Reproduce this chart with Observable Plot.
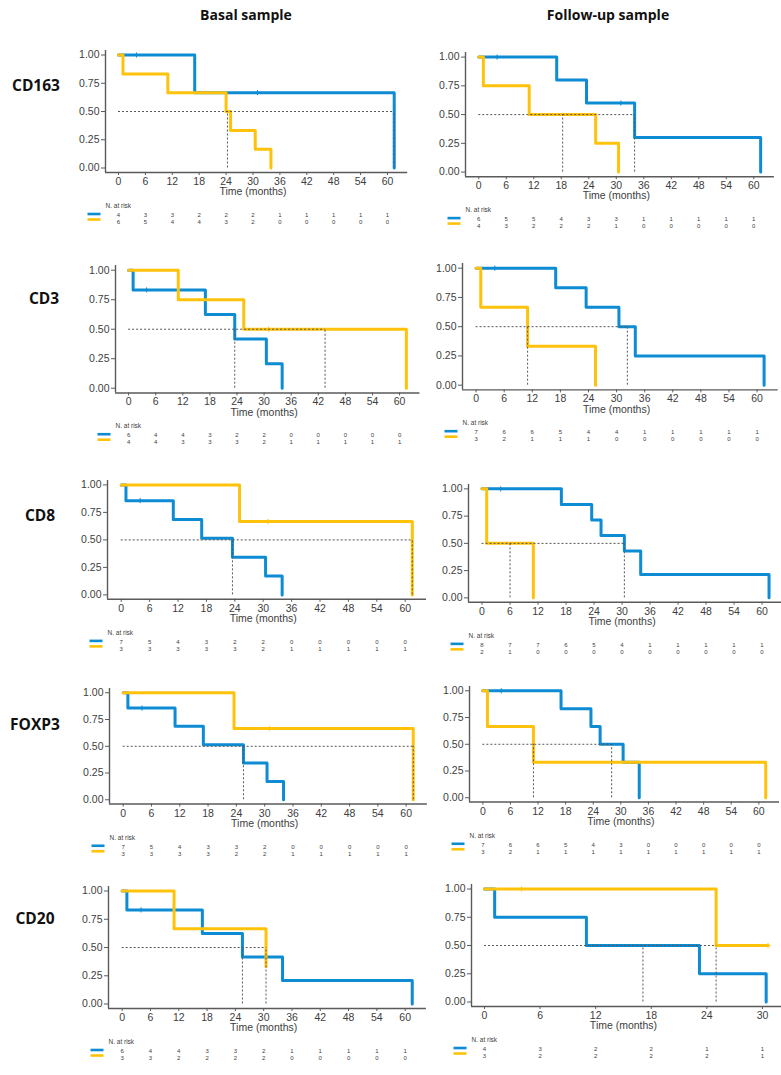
<!DOCTYPE html>
<html><head><meta charset="utf-8">
<script src="https://cdn.jsdelivr.net/npm/d3@7"></script>
<script src="https://cdn.jsdelivr.net/npm/@observablehq/plot@0.6"></script>
<style>
body{margin:0;background:#fff;}
#fig{position:relative;width:781px;height:1075px;overflow:hidden;background:#fff;}
.lbl{position:absolute;font-family:"Open Sans",sans-serif;font-weight:700;color:#111;transform:translate(-50%,-50%);white-space:nowrap;line-height:1;}
.panel{position:absolute;}
.panel svg{max-width:none !important;}
</style></head><body><div id="fig"></div><script>
// ---------- text ----------
const columnTitles = ["Basal sample", "Follow-up sample"];
const markers = ["CD163", "CD3", "CD8", "FOXP3", "CD20"];
const xAxisTitle = "Time (months)";
const riskTitle = "N. at risk";
const riskTimes60 = [0, 6, 12, 18, 24, 30, 36, 42, 48, 54, 60];
const riskTimes30 = [0, 6, 12, 18, 24, 30];
const yTicks = [0, 0.25, 0.5, 0.75, 1];

// ---------- CD163 basal ----------
const cd163BasalBlue = [[0,1],[17,0.667],[61.5,0]];
const cd163BasalYellow = [[0,1],[1,0.833],[11,0.667],[24,0.5],[25,0.333],[30.5,0.167],[34,0]];
const cd163BasalCensorBlue = [[4,1],[31,0.667]];
const cd163BasalCensorYellow = [];
const cd163BasalMedians = [24.3, 61.5];
const cd163BasalRiskBlue = [4,3,3,2,2,2,1,1,1,1,1];
const cd163BasalRiskYellow = [6,5,4,4,3,2,0,0,0,0,0];
// ---------- CD163 follow-up ----------
const cd163FollowBlue = [[0,1],[17,0.8],[23.5,0.6],[34,0.3],[61.5,0]];
const cd163FollowYellow = [[0,1],[1,0.75],[11,0.5],[25.5,0.25],[30.5,0]];
const cd163FollowCensorBlue = [[4,1],[31,0.6]];
const cd163FollowCensorYellow = [];
const cd163FollowMedians = [18.3, 34];
const cd163FollowRiskBlue = [6,5,5,4,3,3,1,1,1,1,1];
const cd163FollowRiskYellow = [4,3,2,2,2,1,0,0,0,0,0];
// ---------- CD3 basal ----------
const cd3BasalBlue = [[0,1],[1,0.833],[17,0.625],[23.5,0.417],[30.5,0.208],[34,0]];
const cd3BasalYellow = [[0,1],[11,0.75],[25.5,0.5],[61.5,0]];
const cd3BasalCensorBlue = [[4,0.833]];
const cd3BasalCensorYellow = [[31,0.5]];
const cd3BasalMedians = [23.5, 43.5];
const cd3BasalRiskBlue = [6,4,4,3,2,2,0,0,0,0,0];
const cd3BasalRiskYellow = [4,4,3,3,3,2,1,1,1,1,1];
// ---------- CD3 follow-up ----------
const cd3FollowBlue = [[0,1],[17,0.833],[23.5,0.667],[30.5,0.5],[34,0.25],[61.5,0]];
const cd3FollowYellow = [[0,1],[1,0.667],[11,0.333],[25.5,0]];
const cd3FollowCensorBlue = [[4,1]];
const cd3FollowCensorYellow = [];
const cd3FollowMedians = [11, 32.3];
const cd3FollowRiskBlue = [7,6,6,5,4,4,1,1,1,1,1];
const cd3FollowRiskYellow = [3,2,1,1,1,0,0,0,0,0,0];
// ---------- CD8 basal ----------
const cd8BasalBlue = [[0,1],[1,0.857],[11,0.686],[17,0.514],[23.5,0.343],[30.5,0.171],[34,0]];
const cd8BasalYellow = [[0,1],[25,0.667],[61.5,0]];
const cd8BasalCensorBlue = [[4,0.857]];
const cd8BasalCensorYellow = [[31,0.667]];
const cd8BasalMedians = [23.5, 61.5];
const cd8BasalRiskBlue = [7,5,4,3,2,2,0,0,0,0,0];
const cd8BasalRiskYellow = [3,3,3,3,3,2,1,1,1,1,1];
// ---------- CD8 follow-up ----------
const cd8FollowBlue = [[0,1],[17,0.857],[23.5,0.714],[25.5,0.571],[30.5,0.429],[34,0.214],[61.5,0]];
const cd8FollowYellow = [[0,1],[1,0.5],[11,0]];
const cd8FollowCensorBlue = [[4,1]];
const cd8FollowCensorYellow = [];
const cd8FollowMedians = [6, 30.5];
const cd8FollowRiskBlue = [8,7,7,6,5,4,1,1,1,1,1];
const cd8FollowRiskYellow = [2,1,0,0,0,0,0,0,0,0,0];
// ---------- FOXP3 basal ----------
const foxp3BasalBlue = [[0,1],[1,0.857],[11,0.686],[17,0.514],[25.5,0.343],[30.5,0.171],[34,0]];
const foxp3BasalYellow = [[0,1],[23.5,0.667],[61.5,0]];
const foxp3BasalCensorBlue = [[4,0.857]];
const foxp3BasalCensorYellow = [[31,0.667]];
const foxp3BasalMedians = [25.5, 61.5];
const foxp3BasalRiskBlue = [7,5,4,3,3,2,0,0,0,0,0];
const foxp3BasalRiskYellow = [3,3,3,3,2,2,1,1,1,1,1];
// ---------- FOXP3 follow-up ----------
const foxp3FollowBlue = [[0,1],[17,0.833],[23.5,0.667],[25.5,0.5],[30.5,0.333],[34,0]];
const foxp3FollowYellow = [[0,1],[1,0.667],[11,0.333],[61.5,0]];
const foxp3FollowCensorBlue = [[4,1]];
const foxp3FollowCensorYellow = [];
const foxp3FollowMedians = [11, 28];
const foxp3FollowRiskBlue = [7,6,6,5,4,3,0,0,0,0,0];
const foxp3FollowRiskYellow = [3,2,1,1,1,1,1,1,1,1,1];
// ---------- CD20 basal ----------
const cd20BasalBlue = [[0,1],[1,0.833],[17,0.625],[25.5,0.417],[34,0.208],[61.5,0]];
const cd20BasalYellow = [[0,1],[11,0.667],[30.5,0.333]];
const cd20BasalCensorBlue = [[4,0.833]];
const cd20BasalCensorYellow = [];
const cd20BasalMedians = [25.5, 30.5];
const cd20BasalRiskBlue = [6,4,4,3,3,2,1,1,1,1,1];
const cd20BasalRiskYellow = [3,3,2,2,2,2,0,0,0,0,0];
// ---------- CD20 follow-up ----------
const cd20FollowBlue = [[0,1],[1.1,0.75],[11,0.5],[23.2,0.25],[30.4,0]];
const cd20FollowYellow = [[0,1],[25,0.5],[30.6,0.5]];
const cd20FollowCensorBlue = [];
const cd20FollowCensorYellow = [[4,1],[30.6,0.5]];
const cd20FollowMedians = [17.1, 25];
const cd20FollowRiskBlue = [4,3,2,2,1,1];
const cd20FollowRiskYellow = [3,2,2,2,2,1];

// ---------- assemble panels (reading order) ----------
const panels = [
  {blue:cd163BasalBlue, yellow:cd163BasalYellow, cb:cd163BasalCensorBlue, cy:cd163BasalCensorYellow, med:cd163BasalMedians, rb:cd163BasalRiskBlue, ry:cd163BasalRiskYellow, times:riskTimes60},
  {blue:cd163FollowBlue, yellow:cd163FollowYellow, cb:cd163FollowCensorBlue, cy:cd163FollowCensorYellow, med:cd163FollowMedians, rb:cd163FollowRiskBlue, ry:cd163FollowRiskYellow, times:riskTimes60},
  {blue:cd3BasalBlue, yellow:cd3BasalYellow, cb:cd3BasalCensorBlue, cy:cd3BasalCensorYellow, med:cd3BasalMedians, rb:cd3BasalRiskBlue, ry:cd3BasalRiskYellow, times:riskTimes60},
  {blue:cd3FollowBlue, yellow:cd3FollowYellow, cb:cd3FollowCensorBlue, cy:cd3FollowCensorYellow, med:cd3FollowMedians, rb:cd3FollowRiskBlue, ry:cd3FollowRiskYellow, times:riskTimes60},
  {blue:cd8BasalBlue, yellow:cd8BasalYellow, cb:cd8BasalCensorBlue, cy:cd8BasalCensorYellow, med:cd8BasalMedians, rb:cd8BasalRiskBlue, ry:cd8BasalRiskYellow, times:riskTimes60},
  {blue:cd8FollowBlue, yellow:cd8FollowYellow, cb:cd8FollowCensorBlue, cy:cd8FollowCensorYellow, med:cd8FollowMedians, rb:cd8FollowRiskBlue, ry:cd8FollowRiskYellow, times:riskTimes60},
  {blue:foxp3BasalBlue, yellow:foxp3BasalYellow, cb:foxp3BasalCensorBlue, cy:foxp3BasalCensorYellow, med:foxp3BasalMedians, rb:foxp3BasalRiskBlue, ry:foxp3BasalRiskYellow, times:riskTimes60},
  {blue:foxp3FollowBlue, yellow:foxp3FollowYellow, cb:foxp3FollowCensorBlue, cy:foxp3FollowCensorYellow, med:foxp3FollowMedians, rb:foxp3FollowRiskBlue, ry:foxp3FollowRiskYellow, times:riskTimes60},
  {blue:cd20BasalBlue, yellow:cd20BasalYellow, cb:cd20BasalCensorBlue, cy:cd20BasalCensorYellow, med:cd20BasalMedians, rb:cd20BasalRiskBlue, ry:cd20BasalRiskYellow, times:riskTimes60},
  {blue:cd20FollowBlue, yellow:cd20FollowYellow, cb:cd20FollowCensorBlue, cy:cd20FollowCensorYellow, med:cd20FollowMedians, rb:cd20FollowRiskBlue, ry:cd20FollowRiskYellow, times:riskTimes30},
];

// ---------- layout (pixel anchors of each panel) ----------
const panelLayout = [
  {x0:118, xEnd:387, y1:55,  y0:168},
  {x0:478, xEnd:753, y1:57,  y0:172},
  {x0:128, xEnd:399, y1:270, y0:388},
  {x0:476, xEnd:757, y1:268, y0:385},
  {x0:121, xEnd:405, y1:484, y0:594},
  {x0:482, xEnd:762, y1:488, y0:597},
  {x0:123, xEnd:406, y1:692, y0:799},
  {x0:482, xEnd:758, y1:690, y0:797},
  {x0:122, xEnd:405, y1:891, y0:1004},
  {x0:484, xEnd:762, y1:889, y0:1002},
];
const titlePos = [[246,15],[608,15]];
const markerPos = [[36,86],[44,299],[40,516],[35,725],[35,919]];

const BLUE = "#0d8bd3", YELLOW = "#ffc20a", AXIS = "#5a5a5a", TXT = "#3d3d3d", MED = "#555";
const fig = document.getElementById("fig");

function addLabel(text, x, y, size) {
  const d = document.createElement("div");
  d.className = "lbl"; d.textContent = text;
  d.style.left = x + "px"; d.style.top = y + "px"; d.style.fontSize = size + "px";
  fig.appendChild(d);
}
columnTitles.forEach((t, i) => addLabel(t, titlePos[i][0], titlePos[i][1], 14));
markers.forEach((m, i) => addLabel(m, markerPos[i][0], markerPos[i][1], 15.5));

function kmPanel(p, L) {
  const tmax = p.times[p.times.length - 1];
  const xDomain = tmax === 60 ? [-2.9, 64.5] : [-1.4, 32.1];
  const yDomain = [-0.04, 1.04];
  const k = (L.xEnd - L.x0) / tmax;
  const ky = L.y0 - L.y1;
  const mL = 46, mR = 8, mT = 6, mB = 64;
  const frameL = L.x0 + xDomain[0] * k, frameR = L.x0 + xDomain[1] * k;
  const frameT = L.y1 - (yDomain[1] - 1) * ky, frameB = L.y0 - yDomain[0] * ky;
  const width = frameR - frameL + mL + mR, height = frameB - frameT + mT + mB;

  const steps = [
    ...p.blue.map(([t, s]) => ({t, s, g: "blue"})),
    ...p.yellow.map(([t, s]) => ({t, s, g: "yellow"}))
  ];
  const censors = [
    ...p.cb.map(([t, s]) => ({t, s, g: "blue"})),
    ...p.cy.map(([t, s]) => ({t, s, g: "yellow"}))
  ];
  const risk = [
    ...p.rb.map((n, i) => ({t: p.times[i], n, row: 0})),
    ...p.ry.map((n, i) => ({t: p.times[i], n, row: 1}))
  ];
  const col = g => g === "blue" ? BLUE : YELLOW;
  const swX1 = xDomain[0] - 18 / k, swX2 = xDomain[0] - 5 / k;

  const plot = Plot.plot({
    width, height, marginLeft: mL, marginRight: mR, marginTop: mT, marginBottom: mB,
    x: {domain: xDomain},
    y: {domain: yDomain},
    style: {background: "transparent", color: TXT, fontFamily: "'Liberation Sans', Arial, sans-serif", overflow: "visible"},
    marks: [
      Plot.axisY({ticks: yTicks, tickFormat: d3.format(".2f"), tickSize: 4, tickPadding: 2, fontSize: 10.5, label: null, stroke: AXIS}),
      Plot.axisX({ticks: p.times, tickFormat: d => String(d), tickSize: 3, tickPadding: 2, fontSize: 10.5, label: null, stroke: AXIS}),
      Plot.ruleX([xDomain[0]], {stroke: AXIS, strokeWidth: 1.4}),
      Plot.ruleY([yDomain[0]], {stroke: AXIS, strokeWidth: 1.4}),
      Plot.line(steps, {x: "t", y: "s", z: "g", stroke: d => col(d.g), curve: "step-after", strokeWidth: 3}),
      Plot.dot(censors, {x: "t", y: "s", symbol: "plus", r: 1.8, stroke: d => col(d.g), strokeWidth: 1}),
      Plot.ruleY([0.5], {x1: 0, x2: d3.max(p.med), stroke: MED, strokeWidth: 1, strokeDasharray: "2,2"}),
      Plot.ruleX(p.med, {y1: 0, y2: 0.5, stroke: MED, strokeWidth: 1, strokeDasharray: "2,2"}),
      Plot.text([tmax / 2], {x: d => d, y: () => 0, text: () => xAxisTitle, dy: 24, fontSize: 10.5, fill: TXT}),
      Plot.text([xDomain[0]], {x: d => d, y: () => 0, text: () => riskTitle, dy: 38, fontSize: 6.5, textAnchor: "start", fill: TXT}),
      Plot.link([{g: "blue"}], {x1: () => swX1, x2: () => swX2, y1: () => 0, y2: () => 0, dy: 46, stroke: d => col(d.g), strokeWidth: 2.6}),
      Plot.link([{g: "yellow"}], {x1: () => swX1, x2: () => swX2, y1: () => 0, y2: () => 0, dy: 51.5, stroke: d => col(d.g), strokeWidth: 2.6}),
      Plot.text(risk.filter(d => d.row === 0), {x: "t", y: () => 0, text: d => String(d.n), dy: 47, fontSize: 6, fill: TXT}),
      Plot.text(risk.filter(d => d.row === 1), {x: "t", y: () => 0, text: d => String(d.n), dy: 54, fontSize: 6, fill: TXT}),
    ]
  });
  const wrap = document.createElement("div");
  wrap.className = "panel";
  wrap.style.left = (frameL - mL) + "px";
  wrap.style.top = (frameT - mT) + "px";
  wrap.appendChild(plot);
  fig.appendChild(wrap);
}

panels.forEach((p, i) => kmPanel(p, panelLayout[i]));
</script></body></html>
